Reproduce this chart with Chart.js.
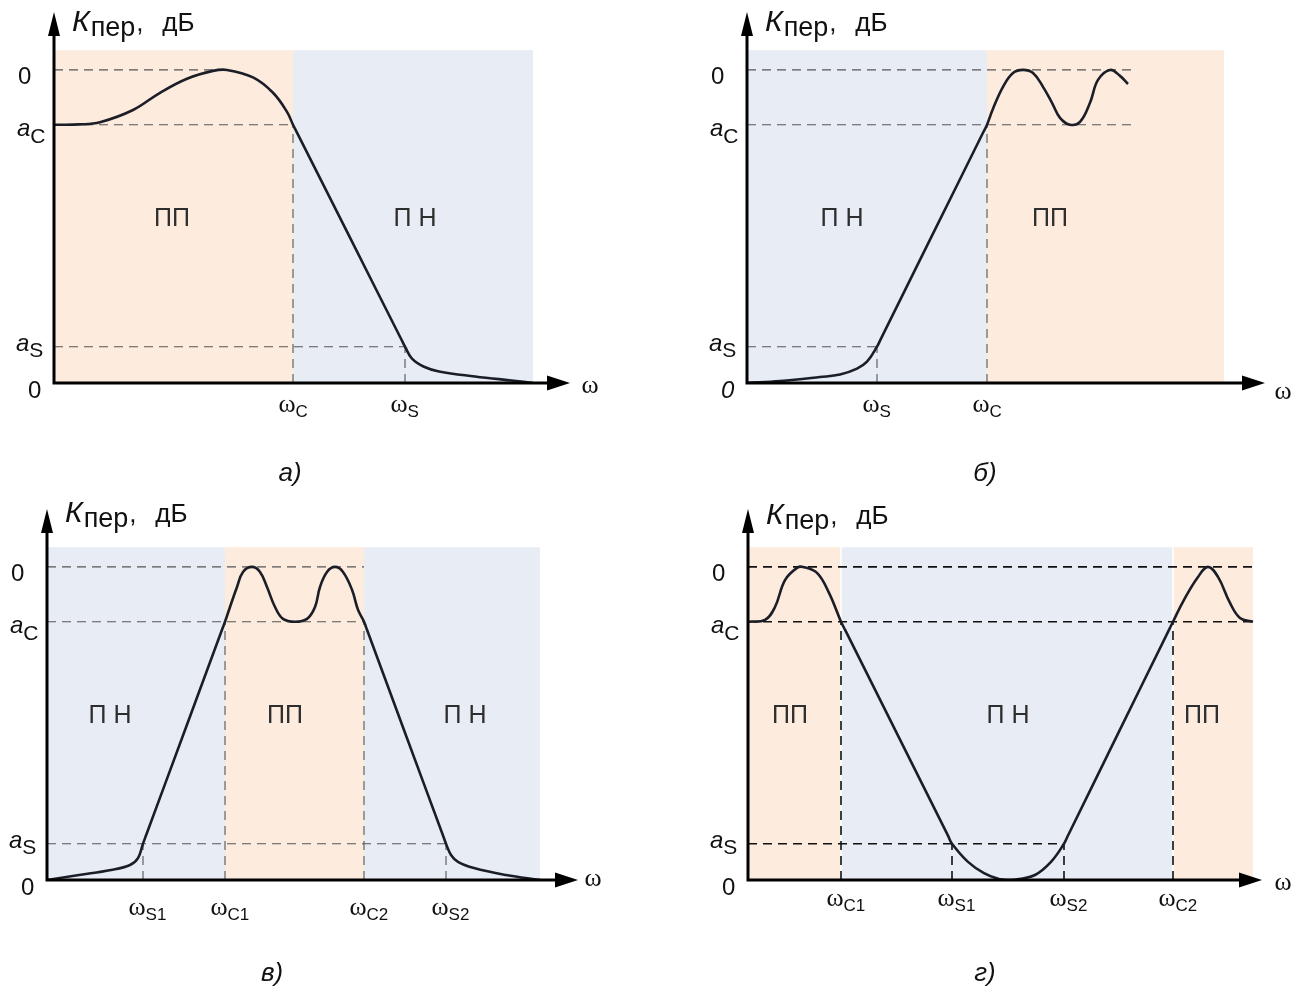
<!DOCTYPE html>
<html>
<head>
<meta charset="utf-8">
<script src="https://cdn.jsdelivr.net/npm/chart.js@4.4.0/dist/chart.umd.min.js"></script>
<style>
  body { margin: 0; background: #fff; }
  #sheet { position: relative; width: 1308px; height: 986px; overflow: hidden; }
  #sheet canvas { position: absolute; }
</style>
</head>
<body>
<div id="sheet">
  <canvas id="chartA" width="654" height="493" style="left:0;top:0"></canvas>
  <canvas id="chartB" width="654" height="493" style="left:654px;top:0"></canvas>
  <canvas id="chartC" width="654" height="493" style="left:0;top:493px"></canvas>
  <canvas id="chartD" width="654" height="493" style="left:654px;top:493px"></canvas>
</div>
<script>
// vertical levels, in units of the 0 dB level
const levelS = 0.116;
const levelC = 0.825;
const level0 = 1;
const bandTop = 1.063;
const yMax = 1.185;

// а) low-pass
const aCurveX = [0, 25, 46, 79, 106, 133, 159, 173, 199, 219, 233, 239, 243, 295, 347, 351, 358, 370, 385, 421, 460, 479];
const aCurveY = [0.825, 0.826, 0.833, 0.872, 0.927, 0.972, 0.997, 1, 0.976, 0.927, 0.866, 0.825, 0.7997, 0.4705, 0.1413, 0.116, 0.078, 0.052, 0.037, 0.021, 0.007, 0];
const aBandEdges = [0, 239, 479];
const aBandKinds = ['pass', 'stop'];
const aZoneX = [118, 361];
const aFreqX = [239, 351];
const aFreqSubs = ['C', 'S'];
const aFreqTop = [0.825, 0.116];
const aGuideLevels = [1, 0.825, 0.116];
const aGuideEnds = [170, 239, 351];

// б) high-pass
const bCurveX = [0, 33, 73, 93, 110, 120, 130, 134, 185, 236, 240, 246, 256, 266, 276, 286, 296, 305, 313, 323, 333, 343, 351, 363, 373, 381];
const bCurveY = [0, 0.006, 0.019, 0.027, 0.046, 0.068, 0.116, 0.1418, 0.4705, 0.7992, 0.825, 0.876, 0.946, 0.99, 1, 0.99, 0.946, 0.895, 0.847, 0.825, 0.834, 0.895, 0.968, 1, 0.981, 0.955];
const bBandEdges = [0, 240, 477];
const bBandKinds = ['stop', 'pass'];
const bZoneX = [95, 303];
const bFreqX = [130, 240];
const bFreqSubs = ['S', 'C'];
const bFreqTop = [0.116, 0.825];
const bGuideLevels = [1, 0.825, 0.116];
const bGuideEnds = [388, 388, 130];

// в) band-pass
const cCurveX = [0, 32, 64, 83, 91, 96, 99, 137, 175, 178, 183, 190, 196, 205, 213, 220, 228, 236, 248, 260, 268, 273, 280, 288, 296, 305, 311, 317, 320, 358, 396, 399, 404, 411, 427, 459, 493];
const cCurveY = [0, 0.016, 0.032, 0.048, 0.07, 0.116, 0.1419, 0.4705, 0.7991, 0.825, 0.872, 0.936, 0.984, 1, 0.984, 0.936, 0.872, 0.834, 0.825, 0.834, 0.872, 0.936, 0.984, 1, 0.984, 0.927, 0.863, 0.825, 0.7991, 0.4705, 0.1419, 0.116, 0.08, 0.058, 0.038, 0.016, 0];
const cBandEdges = [0, 178, 317, 493];
const cBandKinds = ['stop', 'pass', 'stop'];
const cZoneX = [63, 238, 418];
const cFreqX = [96, 178, 317, 399];
const cFreqSubs = ['S1', 'C1', 'C2', 'S2'];
const cFreqTop = [0.116, 0.825, 0.825, 0.116];
const cGuideLevels = [1, 0.825, 0.116];
const cGuideEnds = [317, 317, 399];

// г) band-stop
const dCurveX = [0, 17, 27, 37, 49, 55, 69, 81, 93, 97, 148, 200, 204, 220, 236, 251, 262, 271, 287, 303, 316, 320, 370, 421, 425, 436, 450, 460, 470, 482, 492, 505];
const dCurveY = [0.825, 0.831, 0.872, 0.958, 0.997, 1, 0.981, 0.917, 0.825, 0.7995, 0.4737, 0.1415, 0.116, 0.058, 0.022, 0.003, 0, 0.003, 0.016, 0.058, 0.116, 0.142, 0.4673, 0.799, 0.825, 0.895, 0.968, 1, 0.968, 0.885, 0.837, 0.825];
const dBandEdges = [0, 93, 425, 505];
const dBandKinds = ['pass', 'stop', 'pass'];
const dZoneX = [42, 260, 454];
const dFreqX = [93, 204, 316, 425];
const dFreqSubs = ['C1', 'S1', 'S2', 'C2'];
const dFreqTop = [0.825, 0.116, 0.116, 0.825];
const dGuideLevels = [1, 0.825, 0.116];
const dGuideEnds = [505, 505, 316];

const zoneNames = { pass: 'ПП', stop: 'П Н' };
const bandFill = { pass: '#fdebdd', stop: '#e8edf5' };

const SANS = '"Liberation Sans", Arial, sans-serif';
const SERIF = '"Liberation Serif", "Times New Roman", serif';
const INK = '#111';

const panels = [
  { id: 'chartA', caption: 'а)', capX: 290, capY: 474, titleDy: -352,
    curveX: aCurveX, curveY: aCurveY, bandEdges: aBandEdges, bandKinds: aBandKinds, zoneX: aZoneX,
    freqX: aFreqX, freqSubs: aFreqSubs, freqTop: aFreqTop, guideLevels: aGuideLevels, guideEnds: aGuideEnds,
    pad: { left: 54, right: 84, top: 12, bottom: 110 }, xMax: 516,
    freqDy: 23, omegaDx: 20, omegaDy: 4, zeroItalic: false, guideColor: '#555', guideWidth: 1.1, bandGap: 0 },
  { id: 'chartB', caption: 'б)', capX: 331, capY: 474, titleDy: -352,
    curveX: bCurveX, curveY: bCurveY, bandEdges: bBandEdges, bandKinds: bBandKinds, zoneX: bZoneX,
    freqX: bFreqX, freqSubs: bFreqSubs, freqTop: bFreqTop, guideLevels: bGuideLevels, guideEnds: bGuideEnds,
    pad: { left: 93, right: 43, top: 12, bottom: 110 }, xMax: 518,
    freqDy: 23, omegaDx: 18, omegaDy: 10, zeroItalic: true, guideColor: '#555', guideWidth: 1.1, bandGap: 0 },
  { id: 'chartC', caption: 'в)', capX: 272, capY: 481, titleDy: -358,
    curveX: cCurveX, curveY: cCurveY, bandEdges: cBandEdges, bandKinds: cBandKinds, zoneX: cZoneX,
    freqX: cFreqX, freqSubs: cFreqSubs, freqTop: cFreqTop, guideLevels: cGuideLevels, guideEnds: cGuideEnds,
    pad: { left: 47, right: 76, top: 16, bottom: 106 }, xMax: 531,
    freqDy: 29, omegaDx: 15, omegaDy: 0, zeroItalic: false, guideColor: '#555', guideWidth: 1.1, bandGap: 0 },
  { id: 'chartD', caption: 'г)', capX: 331, capY: 481, titleDy: -356,
    curveX: dCurveX, curveY: dCurveY, bandEdges: dBandEdges, bandKinds: dBandKinds, zoneX: dZoneX,
    freqX: dFreqX, freqSubs: dFreqSubs, freqTop: dFreqTop, guideLevels: dGuideLevels, guideEnds: dGuideEnds,
    pad: { left: 94, right: 46, top: 16, bottom: 106 }, xMax: 514,
    freqDy: 20, omegaDx: 21, omegaDy: 4, zeroItalic: false, guideColor: '#111', guideWidth: 1.6, bandGap: 1.5 },
];

// main text followed by a lowered index
function drawIndexed(ctx, x, y, main, sub, mainFont, subFont, drop) {
  ctx.font = mainFont;
  ctx.fillText(main, x, y);
  const w = ctx.measureText(main).width;
  ctx.font = subFont;
  ctx.fillText(sub, x + w, y + drop);
}

function figurePlugin(p) {
  return {
    id: 'figure',
    beforeDatasetsDraw(chart) {
      const { ctx, scales: { x, y } } = chart;
      const top = y.getPixelForValue(bandTop);
      const bottom = y.getPixelForValue(0);
      ctx.save();
      p.bandKinds.forEach((kind, i) => {
        const x1 = x.getPixelForValue(p.bandEdges[i]) + (i > 0 ? p.bandGap / 2 : 0);
        const x2 = x.getPixelForValue(p.bandEdges[i + 1]) - (i < p.bandKinds.length - 1 ? p.bandGap / 2 : 0);
        ctx.fillStyle = bandFill[kind];
        ctx.fillRect(x1, top, x2 - x1, bottom - top);
      });
      ctx.restore();
    },
    afterDatasetsDraw(chart) {
      const { ctx, chartArea, scales: { x, y } } = chart;
      const x0 = x.getPixelForValue(0);
      const yb = y.getPixelForValue(0);
      const xr = chartArea.right;
      const yt = chartArea.top;
      ctx.save();

      // axes with arrowheads
      ctx.strokeStyle = '#000';
      ctx.fillStyle = '#000';
      ctx.lineWidth = 3;
      ctx.beginPath();
      ctx.moveTo(x0 - 1.5, yb);
      ctx.lineTo(xr - 20, yb);
      ctx.moveTo(x0, yb);
      ctx.lineTo(x0, yt + 20);
      ctx.stroke();
      ctx.beginPath();
      ctx.moveTo(xr, yb);
      ctx.lineTo(xr - 23, yb - 7.5);
      ctx.lineTo(xr - 23, yb + 7.5);
      ctx.closePath();
      ctx.fill();
      ctx.beginPath();
      ctx.moveTo(x0, yt);
      ctx.lineTo(x0 - 6, yt + 24);
      ctx.lineTo(x0 + 6, yt + 24);
      ctx.closePath();
      ctx.fill();

      ctx.fillStyle = INK;
      ctx.textBaseline = 'alphabetic';

      // vertical axis title
      ctx.textAlign = 'left';
      const tx = x0 + 18;
      const ty = yb + p.titleDy;
      ctx.font = 'italic 30px ' + SANS;
      ctx.fillText('К', tx, ty);
      let w = ctx.measureText('К').width + 1;
      ctx.font = '27px ' + SANS;
      ctx.fillText('пер', tx + w, ty + 5);
      w += ctx.measureText('пер').width;
      ctx.font = '26px ' + SANS;
      ctx.fillText(',', tx + w + 1, ty);
      ctx.fillText('дБ', tx + w + 27, ty);

      // level labels
      const y0 = y.getPixelForValue(level0);
      const yc = y.getPixelForValue(levelC);
      const ys = y.getPixelForValue(levelS);
      ctx.font = '24px ' + SANS;
      ctx.fillText('0', x0 - 36, y0 + 14);
      drawIndexed(ctx, x0 - 37, yc + 11, 'a', 'C', 'italic 24px ' + SANS, '21px ' + SANS, 7);
      drawIndexed(ctx, x0 - 38, ys + 4, 'a', 'S', 'italic 24px ' + SANS, '21px ' + SANS, 6);
      ctx.font = (p.zeroItalic ? 'italic ' : '') + '24px ' + SANS;
      ctx.fillText('0', x0 - 26, yb + 15);

      // frequency marks
      p.freqX.forEach((fx, i) => {
        const px = x.getPixelForValue(fx) - 6;
        ctx.font = '26px ' + SERIF;
        const ow = ctx.measureText('ω').width;
        ctx.textAlign = 'center';
        ctx.fillText('ω', px, yb + p.freqDy + 6);
        ctx.textAlign = 'left';
        ctx.font = '17px ' + SANS;
        ctx.fillText(p.freqSubs[i], px + ow / 2, yb + p.freqDy + 11);
      });

      // horizontal axis name
      ctx.textAlign = 'center';
      ctx.font = '26px ' + SERIF;
      ctx.fillText('ω', xr + p.omegaDx, yb + p.omegaDy + 6);

      // band names
      ctx.fillStyle = '#2e2e2e';
      ctx.font = '25px ' + SANS;
      ctx.textBaseline = 'middle';
      p.bandKinds.forEach((kind, i) => {
        ctx.fillText(zoneNames[kind], x.getPixelForValue(p.zoneX[i]), yb - 164);
      });

      // panel caption
      ctx.fillStyle = INK;
      ctx.font = 'italic 26px ' + SANS;
      ctx.fillText(p.caption, p.capX, p.capY);
      ctx.restore();
    }
  };
}

function guide(points, p) {
  return {
    data: points,
    borderColor: p.guideColor,
    borderWidth: p.guideWidth,
    borderDash: [9, 6],
    pointRadius: 0,
    fill: false,
    tension: 0,
  };
}

panels.forEach(p => {
  const datasets = [{
    data: p.curveX.map((v, i) => ({ x: v, y: p.curveY[i] })),
    borderColor: '#1c1e27',
    borderWidth: 2.6,
    pointRadius: 0,
    fill: false,
    tension: 0.4,
  }];
  p.guideLevels.forEach((lv, i) => {
    datasets.push(guide([{ x: 0, y: lv }, { x: p.guideEnds[i], y: lv }], p));
  });
  p.freqX.forEach((fx, i) => {
    datasets.push(guide([{ x: fx, y: 0 }, { x: fx, y: p.freqTop[i] }], p));
  });

  new Chart(document.getElementById(p.id), {
    type: 'line',
    data: { datasets },
    options: {
      responsive: false,
      animation: false,
      events: [],
      layout: { padding: p.pad },
      plugins: {
        legend: { display: false },
        tooltip: { enabled: false },
      },
      scales: {
        x: { type: 'linear', min: 0, max: p.xMax, display: false },
        y: { type: 'linear', min: 0, max: yMax, display: false },
      },
    },
    plugins: [figurePlugin(p)],
  });
});
</script>
</body>
</html>
